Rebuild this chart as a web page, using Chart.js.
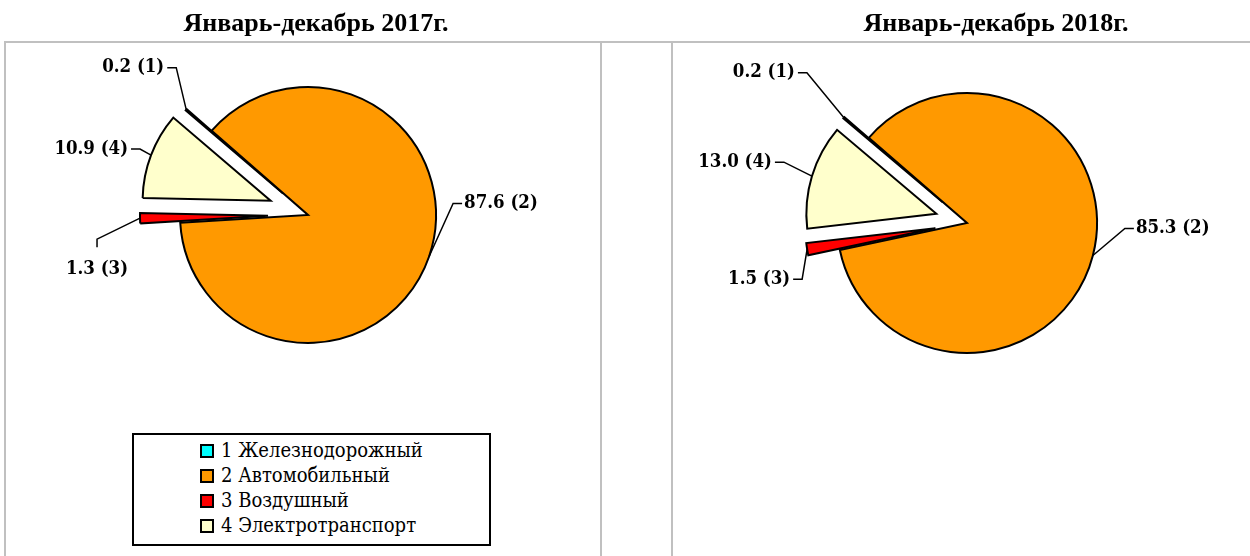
<!DOCTYPE html>
<html lang="ru">
<head>
<meta charset="utf-8">
<script src="https://cdn.jsdelivr.net/npm/chart.js@4.4.1/dist/chart.umd.min.js"></script>
<style>
html,body{margin:0;padding:0;background:#fff}
#page{position:relative;width:1250px;height:556px;overflow:hidden;background:#fff}
.ln{position:absolute;background:#c0c0c0;z-index:1}
.title{position:absolute;top:10px;font:bold 26px/26px "Liberation Serif",serif;color:#000;white-space:nowrap;transform:translateX(-50%);z-index:3}
canvas{position:absolute;top:0;z-index:2}
#legend{position:absolute;left:132px;top:433px;width:359px;height:113px;border:2px solid #000;box-sizing:border-box;background:#fff;z-index:3}
.li{position:absolute;left:66px;height:25px;line-height:25px;font:20px/25px "DejaVu Serif Condensed","DejaVu Serif",serif;color:#000;white-space:nowrap}
.sw{position:absolute;left:0;top:6px;width:10px;height:10px;border:2px solid #000}
.lt{position:absolute;left:21px;top:0}
</style>
</head>
<body>
<div id="page">
  <div class="ln" style="left:4px;top:41px;width:1246px;height:2px"></div>
  <div class="ln" style="left:4px;top:41px;width:2px;height:515px"></div>
  <div class="ln" style="left:600px;top:41px;width:2px;height:515px"></div>
  <div class="ln" style="left:671px;top:41px;width:2px;height:515px"></div>
  <div class="title" id="t1" style="left:316px"></div>
  <div class="title" id="t2" style="left:996px"></div>
  <canvas id="c1" width="616" height="430" style="left:0"></canvas>
  <canvas id="c2" width="554" height="446" style="left:690px"></canvas>
  <div id="legend"></div>
</div>
<script>
// ---- data ----
const titles = ['Январь-декабрь 2017г.', 'Январь-декабрь 2018г.'];
const categories = ['Железнодорожный', 'Автомобильный', 'Воздушный', 'Электротранспорт'];
const values2017 = [0.2, 87.6, 1.3, 10.9];
const values2018 = [0.2, 85.3, 1.5, 13.0];
const colors = ['#00FFFF', '#FF9900', '#FF0000', '#FFFFCC'];

// ---- titles & legend ----
document.getElementById('t1').textContent = titles[0];
document.getElementById('t2').textContent = titles[1];
const leg = document.getElementById('legend');
categories.forEach((c, i) => {
  const row = document.createElement('div');
  row.className = 'li';
  row.style.top = (3 + i * 25) + 'px';
  const sw = document.createElement('div');
  sw.className = 'sw';
  sw.style.background = colors[i];
  const t = document.createElement('span');
  t.className = 'lt';
  t.textContent = (i + 1) + ' ' + c;
  row.appendChild(sw); row.appendChild(t);
  leg.appendChild(row);
});

// ---- plugin: exploded slices + leader-line labels ----
const pieLabels = {
  id: 'pieLabels',
  afterDatasetUpdate(chart, args, opts) {
    const ex = opts.explode || [];
    args.meta.data.forEach((arc, i) => {
      const d = ex[i] || 0;
      if (!d) return;
      const mid = (arc.startAngle + arc.endAngle) / 2;
      arc.x += Math.cos(mid) * d;
      arc.y += Math.sin(mid) * d;
    });
  },
  afterDatasetsDraw(chart, args, opts) {
    const ctx = chart.ctx;
    const meta = chart.getDatasetMeta(0);
    const data = chart.data.datasets[0].data;
    ctx.save();
    ctx.strokeStyle = '#000';
    ctx.fillStyle = '#000';
    ctx.lineWidth = 1.5;
    ctx.font = opts.font;
    meta.data.forEach((arc, i) => {
      const p = opts.place[i];
      const mid = (arc.startAngle + arc.endAngle) / 2;
      const ax = arc.x + Math.cos(mid) * arc.outerRadius;
      const ay = arc.y + Math.sin(mid) * arc.outerRadius;
      const bx = ax + p[0], by = ay + p[1];
      const txt = data[i].toFixed(1) + ' (' + (i + 1) + ')';
      ctx.beginPath();
      ctx.moveTo(ax, ay);
      ctx.lineTo(bx, by);
      let tx, ty;
      if (p[2] === 'l') {
        ctx.lineTo(bx - 9, by);
        ctx.textAlign = 'right'; ctx.textBaseline = 'middle';
        tx = bx - 12; ty = by;
      } else if (p[2] === 'r') {
        ctx.lineTo(bx + 9, by);
        ctx.textAlign = 'left'; ctx.textBaseline = 'middle';
        tx = bx + 11; ty = by;
      } else {
        ctx.lineTo(bx, by + 8);
        ctx.textAlign = 'center'; ctx.textBaseline = 'middle';
        tx = bx; ty = by + 30;
      }
      ctx.stroke();
      ctx.fillText(txt, tx, ty);
    });
    ctx.restore();
  }
};

function makePie(id, values, rotation, radius, explode, place) {
  return new Chart(document.getElementById(id), {
    type: 'pie',
    data: {
      labels: categories,
      datasets: [{
        data: values,
        backgroundColor: colors,
        borderColor: '#000',
        borderWidth: 2,
        borderJoinStyle: 'miter',
        radius: radius
      }]
    },
    options: {
      responsive: false,
      animation: false,
      events: [],
      rotation: rotation,
      layout: { padding: 0 },
      plugins: {
        legend: { display: false },
        tooltip: { enabled: false },
        pieLabels: { explode: explode, place: place, font: 'bold 18.5px "DejaVu Serif Condensed", "DejaVu Serif", serif' }
      }
    },
    plugins: [pieLabels]
  });
}

makePie('c1', values2017, 310.5, 128, [33, 0, 40, 40],
  [[-10, -42, 'l'], [24, -53, 'r'], [-43, 21, 'b'], [-11, -6, 'l']]);
makePie('c2', values2018, 310.2, 130, [32, 0, 32, 32],
  [[-37, -45, 'l'], [32, -27, 'r'], [-5, 30, 'l'], [-28, -14, 'l']]);
</script>
</body>
</html>
